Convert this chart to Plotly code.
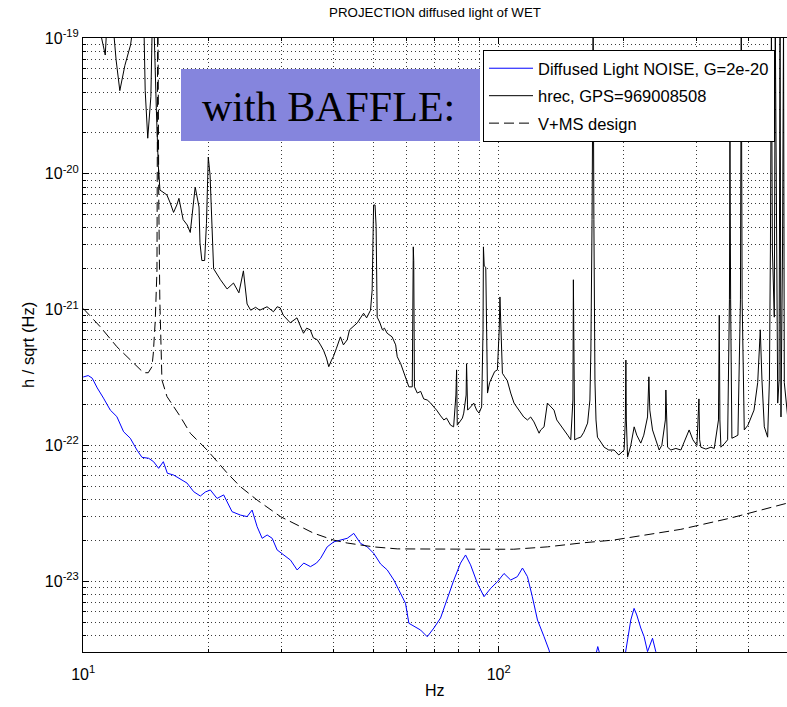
import plotly.graph_objects as go

# ---------------- data ----------------
# Diffused light noise (blue)
freq_noise = [10.0, 10.28, 10.51, 10.81, 11.19, 11.62, 12.05, 12.51, 12.98, 13.47, 13.85, 14.37,
              14.77, 15.19, 15.59, 15.94, 16.51, 17.13, 17.78, 18.45, 19.14, 19.68, 20.23, 21.0,
              21.78, 22.82, 23.89, 24.8, 25.5, 26.22, 26.96, 27.72, 28.5, 29.29, 30.39, 31.55,
              32.73, 33.95, 35.24, 36.43, 37.25, 38.66, 40.11, 41.63, 43.2, 44.8, 46.5, 48.27,
              50.06, 51.96, 53.93, 55.94, 58.05, 59.68, 60.8, 62.5, 64.86, 67.3, 69.84, 72.47,
              75.2, 78.0, 80.96, 83.24, 85.57, 88.86, 92.2, 95.7, 99.3, 103.0, 106.9, 110.9,
              114.1, 117.3, 120.5, 124.0, 128.6, 132.2, 135.6, 153.3, 168.4, 173.2, 178.1, 191.4,
              200.1, 204.6, 208.0, 211.8, 215.0, 219.8, 223.9, 228.2, 231.1, 234.6, 238.9, 245.6,
              497.0]
h_noise = [3.19e-22, 3.27e-22, 3.13e-22, 2.65e-22, 2.23e-22, 1.82e-22, 1.63e-22, 1.26e-22, 1.13e-22,
           9.25e-23, 8.17e-23, 8.04e-23, 7.59e-23, 6.78e-23, 7.59e-23, 6.24e-23, 6.05e-23, 5.66e-23,
           5.28e-23, 4.56e-23, 4.24e-23, 4.54e-23, 4.70e-23, 4.07e-23, 4.32e-23, 3.25e-23, 3.07e-23,
           2.99e-23, 3.34e-23, 2.52e-23, 2.07e-23, 2.19e-23, 2.07e-23, 1.70e-23, 1.56e-23, 1.43e-23,
           1.21e-23, 1.36e-23, 1.28e-23, 1.36e-23, 1.47e-23, 1.79e-23, 1.95e-23, 2.01e-23, 2.07e-23,
           2.25e-23, 1.90e-23, 1.79e-23, 1.60e-23, 1.34e-23, 1.21e-23, 1.02e-23, 8.19e-24, 6.87e-24,
           4.90e-24, 4.68e-24, 4.37e-24, 3.90e-24, 4.52e-24, 5.36e-24, 7.52e-24, 1.02e-23, 1.36e-23,
           1.56e-23, 1.32e-23, 9.66e-24, 7.69e-24, 8.87e-24, 9.91e-24, 1.14e-23, 1.02e-23, 1.08e-23,
           1.25e-23, 1.08e-23, 7.69e-24, 5.18e-24, 3.90e-24, 3.11e-24, 2.3e-24, 1.5e-24, 2.3e-24,
           3.30e-24, 2.4e-24, 1.6e-24, 2.5e-24, 3.69e-24, 5.18e-24, 6.31e-24, 5.64e-24, 4.52e-24,
           3.90e-24, 3.03e-24, 3.39e-24, 3.80e-24, 3.03e-24, 2.2e-24, 1.0e-24]

# hrec, GPS=969008508 (black)
freq_hrec = [10.0, 10.9, 11.3, 11.4, 11.8, 12.0, 12.25, 12.6, 13.0, 13.2, 14.0, 14.1, 14.3, 14.5,
             14.55, 14.66, 14.8, 15.0, 15.16, 15.3, 15.6, 15.9, 16.2, 16.5, 16.8, 17.0, 17.4, 17.8,
             18.1, 18.4, 18.6, 19.0, 19.1, 19.3, 19.6, 19.8, 20.0, 20.2, 20.4, 20.6, 21.4, 22.2,
             23.0, 23.7, 24.3, 24.8, 25.3, 26.0, 26.6, 27.7, 28.7, 29.3, 29.8, 30.3, 31.5, 32.7,
             33.3, 33.9, 34.5, 35.2, 35.8, 36.6, 37.25, 37.9, 38.5, 39.0, 39.6, 40.0, 40.7, 41.6,
             42.3, 43.2, 43.75, 44.4, 45.7, 46.5, 47.3, 48.1, 49.15, 49.6, 50.0, 50.4, 50.7, 51.0,
             51.7, 52.5, 53.1, 53.9, 55.4, 56.5, 57.0, 58.1, 59.1, 60.0, 60.8, 61.95, 62.3, 62.45,
             62.7, 63.7, 64.9, 66.0, 67.3, 68.6, 69.8, 70.9, 72.5, 73.8, 74.9, 76.6, 77.9, 78.9,
             79.2, 79.5, 80.2, 81.8, 82.4, 83.5, 83.7, 84.2, 85.6, 87.1, 88.5, 89.7, 91.0, 91.7,
             91.9, 92.3, 93.1, 93.5, 94.0, 95.1, 96.6, 97.8, 99.3, 100.3, 100.7, 101.4, 102.1, 103.4,
             104.9, 106.9, 108.9, 110.5, 113.0, 114.9, 117.3, 119.4, 121.6, 123.5, 125.1, 126.2,
             128.6, 131.0, 133.5, 135.9, 138.0, 141.1, 143.7, 146.6, 149.1, 150.9, 151.3, 151.8,
             152.4, 155.0, 157.6, 160.3, 163.7, 165.8, 166.7, 167.8, 168.8, 169.5, 170.5, 171.5,
             172.9, 176.1, 179.4, 184.1, 189.6, 194.6, 200.4, 201.8, 202.4, 202.9, 204.3, 208.0,
             211.9, 215.0, 219.8, 223.5, 228.2, 229.9, 231.1, 234.6, 238.9, 243.4, 247.0, 251.9,
             252.6, 253.6, 255.0, 259.7, 267.0, 274.5, 280.6, 287.4, 293.4, 300.0, 303.4, 304.6,
             306.7, 315.3, 324.3, 330.3, 338.1, 339.6, 340.8, 342.7, 350.4, 355.7, 359.3, 360.3,
             361.7, 364.2, 369.0, 376.6, 381.9, 383.6, 385.5, 390.1, 398.1, 404.8, 411.7, 420.2,
             426.3, 430.3, 435.9, 444.0, 448.4, 450.9, 453.4, 455.9, 460.7, 463.2, 466.3, 469.5,
             473.0, 475.6, 478.1, 482.2, 484.9, 487.0, 496.2]
h_hrec = [1.6e-19, 1.25e-19, 7.5e-20, 1.25e-19, 1.25e-19, 6.9e-20, 4.1e-20, 6.3e-20, 8.9e-20, 1.25e-19,
          1.25e-19, 4.1e-20, 1.83e-20, 2.95e-20, 3.7e-20, 1.25e-19, 1.25e-19, 2.95e-20, 1.16e-20,
          7.6e-21, 7.3e-21, 7.0e-21, 6.1e-21, 5.2e-21, 5.9e-21, 6.6e-21, 4.6e-21, 4.2e-21, 3.7e-21,
          5.9e-21, 8.0e-21, 5.7e-21, 3.1e-21, 2.3e-21, 2.3e-21, 4.3e-21, 1.33e-20, 9.8e-21, 4.0e-21,
          2.0e-21, 1.66e-21, 1.42e-21, 1.57e-21, 1.33e-21, 1.93e-21, 1.10e-21, 9.9e-22, 1.04e-21,
          9.9e-22, 1.05e-21, 9.65e-22, 1.05e-21, 1.03e-21, 9.1e-22, 8.0e-22, 8.7e-22, 7.6e-22, 6.7e-22,
          7.3e-22, 7.1e-22, 6.2e-22, 6.0e-22, 5.5e-22, 5.0e-22, 4.4e-22, 3.8e-22, 4.25e-22, 4.5e-22,
          5.2e-22, 6.3e-22, 5.5e-22, 6.0e-22, 7.1e-22, 7.4e-22, 8.0e-22, 8.7e-22, 9.4e-22, 8.7e-22,
          9.9e-22, 1.39e-21, 5.9e-21, 5.9e-21, 4.1e-21, 8.8e-22, 8.1e-22, 7.1e-22, 7.3e-22, 6.7e-22,
          6.3e-22, 5.5e-22, 4.5e-22, 4.0e-22, 3.4e-22, 3.0e-22, 2.7e-22, 2.7e-22, 2.9e-21, 2.3e-21,
          2.7e-22, 2.43e-22, 2.5e-22, 2.2e-22, 2.16e-22, 2.05e-22, 1.92e-22, 1.82e-22, 1.65e-22,
          1.54e-22, 1.59e-22, 1.41e-22, 1.37e-22, 2.35e-22, 3.6e-22, 1.41e-22, 1.46e-22, 1.59e-22,
          1.73e-22, 2.35e-22, 4.0e-22, 1.82e-22, 1.92e-22, 2.05e-22, 1.82e-22, 1.73e-22, 1.92e-22,
          7.1e-22, 2.9e-21, 2.1e-21, 2.05e-21, 5.0e-22, 2.43e-22, 2.9e-22, 3.2e-22, 3.5e-22, 3.6e-22,
          7.1e-22, 1.24e-21, 6.0e-22, 3.4e-22, 3.2e-22, 3.0e-22, 2.43e-22, 2.05e-22, 1.92e-22,
          1.73e-22, 1.62e-22, 1.54e-22, 1.62e-22, 1.49e-22, 1.34e-22, 1.23e-22, 1.30e-22, 1.37e-22,
          2.05e-22, 1.92e-22, 1.82e-22, 1.54e-22, 1.41e-22, 1.30e-22, 1.19e-22, 1.10e-22, 2.16e-22,
          1.66e-21, 2.16e-22, 1.10e-22, 1.13e-22, 1.15e-22, 1.25e-22, 1.46e-22, 2.16e-22, 5.0e-22,
          4.6e-21, 1.3e-19, 4.6e-21, 3.0e-22, 1.54e-22, 1.15e-22, 1.06e-22, 9.7e-23, 9.25e-23,
          9.25e-23, 8.5e-23, 9.25e-23, 1.54e-22, 4.25e-22, 1.54e-22, 8.2e-23, 1.0e-22, 1.37e-22,
          1.19e-22, 1.04e-22, 1.19e-22, 1.62e-22, 3.2e-22, 1.82e-22, 1.30e-22, 1.10e-22, 9.25e-23,
          1.0e-22, 1.54e-22, 2.56e-22, 1.30e-22, 9.7e-23, 9.25e-23, 9.5e-23, 9.25e-23, 1.10e-22,
          1.30e-22, 1.10e-22, 1.0e-22, 2.2e-22, 1.10e-22, 9.7e-23, 9.4e-23, 9.7e-23, 9.5e-23,
          1.54e-22, 9.1e-22, 1.54e-22, 9.7e-23, 1.04e-22, 1.10e-22, 1.18e-21, 1.77e-20, 1.18e-21,
          1.13e-22, 1.15e-22, 1.19e-22, 1.18e-21, 1.3e-19, 1.18e-21, 1.30e-22, 1.41e-22, 1.62e-22,
          1.82e-22, 2.9e-22, 7.1e-22, 3.0e-22, 1.37e-22, 1.15e-22, 3.0e-22, 2.75e-21, 1.3e-19,
          2.75e-21, 8.8e-22, 1.3e-19, 2.75e-21, 2.05e-22, 3.0e-22, 1.3e-19, 1.62e-22, 2.75e-21,
          1.3e-19, 2.9e-22, 1.62e-22]

# V+MS design (dashed)
freq_design = [10.0, 10.99, 12.05, 13.2, 13.97, 14.34, 14.64, 14.75, 14.91, 15.05, 15.12, 15.2,
               15.29, 15.47, 15.91, 17.13, 18.1, 19.87, 22.2, 23.89, 26.22, 29.84, 35.83, 40.0,
               43.2, 50.0, 57.0, 90.0, 108.7, 131.0, 157.6, 189.3, 228.2, 274.5, 362.0, 497.0]
h_design = [1.02e-21, 7.48e-22, 5.33e-22, 4.04e-22, 3.43e-22, 3.43e-22, 3.80e-22, 4.79e-22, 8.38e-22,
            1.96e-21, 3e-19, 6.41e-21, 1.18e-21, 3.03e-22, 2.29e-22, 1.63e-22, 1.23e-22, 9.25e-23,
            6.27e-23, 4.97e-23, 3.96e-23, 2.99e-23, 2.26e-23, 2.01e-23, 1.91e-23, 1.79e-23, 1.73e-23,
            1.72e-23, 1.72e-23, 1.79e-23, 1.91e-23, 2.01e-23, 2.19e-23, 2.41e-23, 2.92e-23, 3.77e-23]

series_names = ["Diffused Light NOISE, G=2e-20", "hrec, GPS=969008508", "V+MS design"]

x_major = [10, 100]
x_major_text = ["10<sup>1</sup>", "10<sup>2</sup>"]
x_minor = [20, 30, 40, 50, 60, 70, 80, 90, 200, 300, 400]
y_major = [1e-23, 1e-22, 1e-21, 1e-20, 1e-19]
y_major_text = ["10<sup>-23</sup>", "10<sup>-22</sup>", "10<sup>-21</sup>",
                "10<sup>-20</sup>", "10<sup>-19</sup>"]
y_minor = [3e-24, 4e-24, 5e-24, 6e-24, 7e-24, 8e-24, 9e-24,
           2e-23, 3e-23, 4e-23, 5e-23, 6e-23, 7e-23, 8e-23, 9e-23,
           2e-22, 3e-22, 4e-22, 5e-22, 6e-22, 7e-22, 8e-22, 9e-22,
           2e-21, 3e-21, 4e-21, 5e-21, 6e-21, 7e-21, 8e-21, 9e-21,
           2e-20, 3e-20, 4e-20, 5e-20, 6e-20, 7e-20, 8e-20, 9e-20]

# ---------------- figure ----------------
FONT = "Liberation Sans, Arial, Helvetica, sans-serif"
GRID = "#3a3a3a"
DOTS = "1px,3px"

fig = go.Figure()
fig.add_trace(go.Scatter(x=freq_noise, y=h_noise, mode="lines", name=series_names[0],
                         legendgroup="g1", line=dict(color="#0000ff", width=1)))
fig.add_trace(go.Scatter(x=freq_hrec, y=h_hrec, mode="lines", name=series_names[1],
                         legendgroup="g2", line=dict(color="#000000", width=1)))
fig.add_trace(go.Scatter(x=freq_design, y=h_design, mode="lines", name=series_names[2],
                         legendgroup="g3", line=dict(color="#000000", width=1, dash="10px,5px")))

fig.update_layout(
    width=787, height=707,
    margin=dict(l=83, r=0, t=38, b=55),
    paper_bgcolor="white", plot_bgcolor="white",
    font=dict(family=FONT, size=16, color="black"),
    showlegend=True,
    title=dict(text="PROJECTION diffused light of WET", x=0.5, xref="paper", xanchor="center",
               y=1 - 12 / 707, yref="container", yanchor="middle",
               font=dict(family=FONT, size=13.3, color="black")),
    legend=dict(x=(483 - 83) / 704, y=(652 - 50) / 614, xanchor="left", yanchor="top",
                bgcolor="white", bordercolor="black", borderwidth=1,
                font=dict(family=FONT, size=16.5, color="black"),
                traceorder="grouped", tracegroupgap=3, itemwidth=44),
)

fig.update_xaxes(
    type="log", range=[0.9995, 2.694],
    tickmode="array", tickvals=x_major, ticktext=x_major_text,
    ticks="inside", ticklen=6, tickcolor="black", tickwidth=1,
    ticklabelstandoff=8,
    showline=True, linecolor="black", linewidth=1, mirror="ticks",
    showgrid=True, gridcolor=GRID, gridwidth=1, griddash=DOTS, zeroline=False,
    minor=dict(tickmode="array", tickvals=x_minor, ticks="inside", ticklen=3, tickcolor="black",
               showgrid=True, gridcolor=GRID, gridwidth=1, griddash=DOTS),
    tickfont=dict(family=FONT, size=16, color="black"),
)
fig.update_yaxes(
    type="log", range=[-23.5214, -18.9995],
    tickmode="array", tickvals=y_major, ticktext=y_major_text,
    ticks="inside", ticklen=6, tickcolor="black", tickwidth=1,
    ticklabelstandoff=0,
    showline=True, linecolor="black", linewidth=1, mirror=False,
    showgrid=True, gridcolor=GRID, gridwidth=1, griddash=DOTS, zeroline=False,
    minor=dict(tickmode="array", tickvals=y_minor, ticks="inside", ticklen=3, tickcolor="black",
               showgrid=True, gridcolor=GRID, gridwidth=1, griddash=DOTS),
    tickfont=dict(family=FONT, size=16, color="black"),
)

# "with BAFFLE:" label box
fig.add_shape(type="rect", xref="paper", yref="paper",
              x0=(181 - 83) / 704, x1=(480 - 83) / 704,
              y0=(652 - 141) / 614, y1=(652 - 69) / 614,
              fillcolor="#8585dd", line=dict(width=0), layer="above")
fig.add_annotation(text="with BAFFLE:", xref="paper", yref="paper",
                   x=(200 - 83) / 704, y=(652 - 107) / 614, xanchor="left", yanchor="middle",
                   showarrow=False,
                   font=dict(family="Liberation Serif, Times New Roman, serif", size=42,
                             color="black"))

# axis titles
fig.add_annotation(text="Hz", xref="paper", yref="paper", x=0.5, y=(652 - 690) / 614,
                   xanchor="center", yanchor="middle", showarrow=False,
                   font=dict(family=FONT, size=16, color="black"))
fig.add_annotation(text="h / sqrt (Hz)", xref="paper", yref="paper", x=(28 - 83) / 704, y=0.5,
                   xanchor="center", yanchor="middle", textangle=-90, showarrow=False,
                   font=dict(family=FONT, size=16.5, color="black"))

fig.write_html("out.html", config={"displayModeBar": False})
